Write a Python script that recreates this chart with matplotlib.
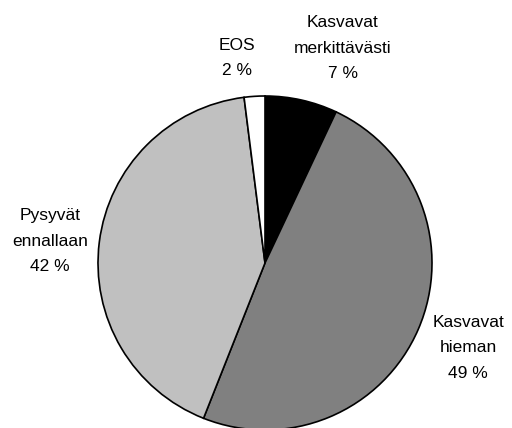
import matplotlib
matplotlib.use("Agg")
import matplotlib.pyplot as plt

labels = ["Kasvavat\nmerkittävästi", "Kasvavat\nhieman", "Pysyvät\nennallaan", "EOS"]
values = [7, 49, 42, 2]
colors = ["#000000", "#808080", "#c0c0c0", "#ffffff"]

plt.rcParams['font.family'] = ['Liberation Sans', 'DejaVu Sans']

W, H = 512, 428
fig = plt.figure(figsize=(5.12, 4.28), dpi=100)
ax = fig.add_axes([0, 0, 1, 1])

ax.pie(values, colors=colors, startangle=90, counterclock=False,
       center=(265, H - 263), radius=167,
       wedgeprops=dict(edgecolor='black', linewidth=1.2))
ax.set_xlim(0, W)
ax.set_ylim(0, H)
ax.set_aspect('auto')
ax.axis('off')

label_pos = [(343, 48), (468, 348), (50, 241), (237, 58)]
for lab, v, (x, y) in zip(labels, values, label_pos):
    ax.text(x, H - y, f"{lab}\n{v} %", ha='center', va='center', fontsize=12.5,
            linespacing=1.9, color='black')

fig.savefig("out.png", dpi=100)
